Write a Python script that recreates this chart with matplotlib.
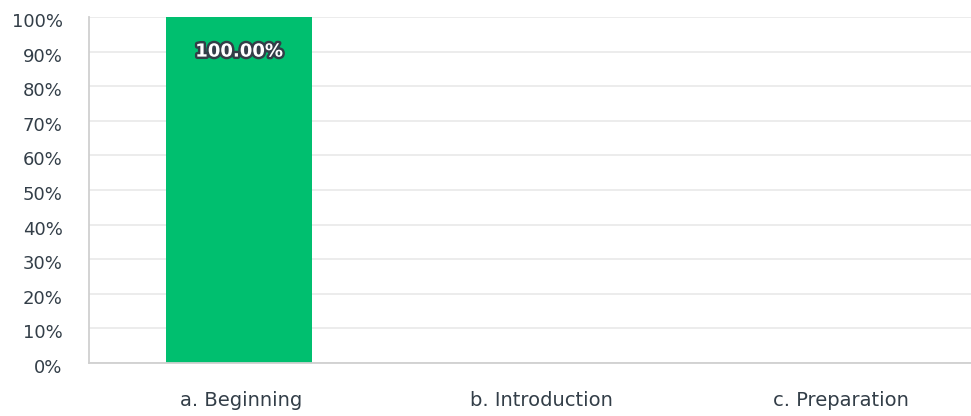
import matplotlib
matplotlib.use('Agg')
import matplotlib.pyplot as plt
import matplotlib.patheffects as pe
import matplotlib.transforms as mtrans
from matplotlib.ticker import FuncFormatter

categories = ['a. Beginning', 'b. Introduction', 'c. Preparation']
values = [100.0, 0.0, 0.0]
yticks = [0, 10, 20, 30, 40, 50, 60, 70, 80, 90, 100]

txt = '#333e48'
green = '#00bf6f'

plt.rcParams['font.family'] = ['DejaVu Sans']

fig = plt.figure(figsize=(9.71, 4.16), dpi=100)
# axes runs past the right edge, like the cropped original
ax = fig.add_axes([89/971, 53/416, 900/971, 346/416])

x = list(range(len(categories)))
bars = ax.bar(x, values, width=0.487, color=green, zorder=3)

for b, v in zip(bars, values):
    if v > 0:
        ax.text(b.get_x() + b.get_width()/2, v - 10, '%.2f%%' % v,
                ha='center', va='center', color='white', fontsize=13,
                fontweight='bold', zorder=4,
                path_effects=[pe.withStroke(linewidth=3.5, foreground=txt)])

ax.set_xlim(-0.5, 2.5)
ax.set_ylim(0, 100)
ax.set_yticks(yticks)
ax.yaxis.set_major_formatter(FuncFormatter(lambda v, p: '%d%%' % v))
ax.set_xticks(x)
ax.set_xticklabels(categories)

ax.grid(axis='y', color='#ebebeb', linewidth=1.3, zorder=0)
ax.tick_params(axis='y', length=0, pad=19, labelsize=13, labelcolor=txt)
ax.tick_params(axis='x', length=0, pad=20, labelsize=14, labelcolor=txt)

# tick labels sit a little under their gridlines
shift = mtrans.ScaledTranslation(0, -3/100, fig.dpi_scale_trans)
for lab in ax.get_yticklabels():
    lab.set_transform(lab.get_transform() + shift)
shiftx = mtrans.ScaledTranslation(2/100, 0, fig.dpi_scale_trans)
for lab in ax.get_xticklabels():
    lab.set_transform(lab.get_transform() + shiftx)

for s in ['top', 'right']:
    ax.spines[s].set_visible(False)
for s in ['left', 'bottom']:
    ax.spines[s].set_color('#d0d0d0')
    ax.spines[s].set_linewidth(1.3)
    ax.spines[s].set_zorder(5)

fig.savefig('out.png', dpi=100)
